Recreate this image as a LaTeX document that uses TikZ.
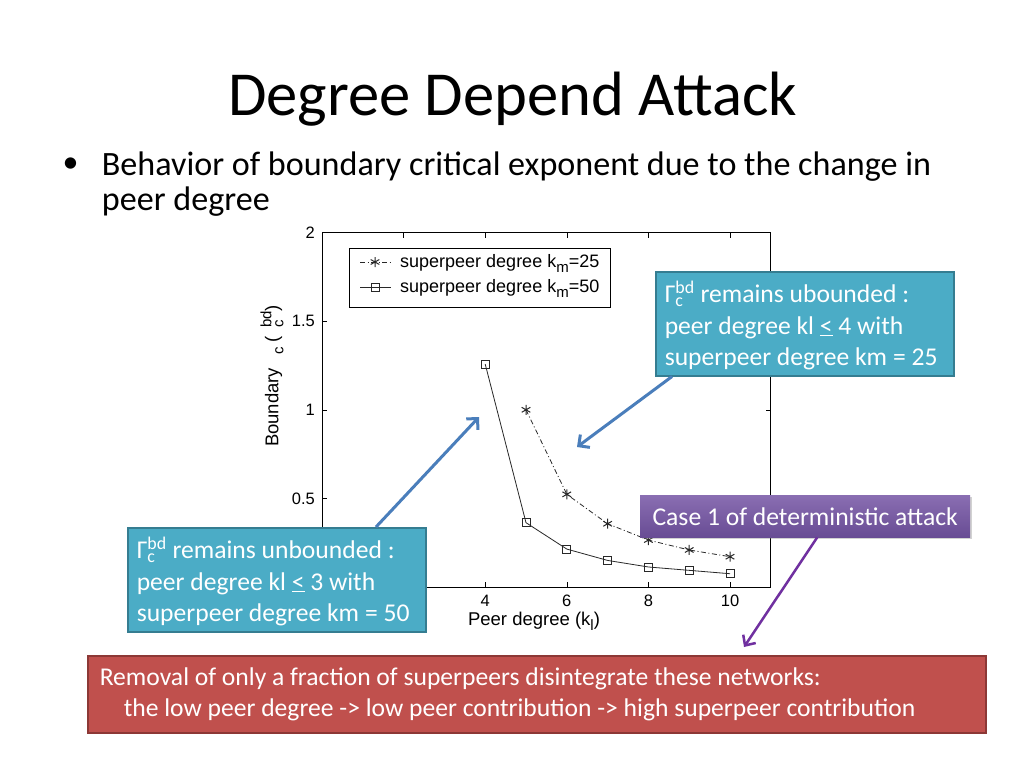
\documentclass[tikz,border=0pt]{standalone}
\usepackage{fontspec}
\setmainfont{Carlito}
\newfontfamily\plotfont{Liberation Sans}
\usetikzlibrary{arrows.meta,shadows,plotmarks}
\definecolor{callblue}{RGB}{75,172,198}
\definecolor{callline}{RGB}{53,125,145}
\definecolor{arrowblue}{RGB}{74,126,187}
\definecolor{casetop}{RGB}{138,110,178}
\definecolor{casebot}{RGB}{104,76,148}
\definecolor{arrowpurple}{RGB}{112,48,160}
\definecolor{boxred}{RGB}{192,80,77}
\definecolor{boxline}{RGB}{140,56,54}
\definecolor{curve}{RGB}{40,40,40}
\newcommand{\lowsub}[1]{\raisebox{-5pt}{\fontsize{15}{15}\selectfont #1}}
\tikzset{
  callout/.style={draw=callline,line width=1.5pt,fill=callblue,text=white,align=flush left,
    text width=280pt,inner xsep=9pt,inner ysep=11pt,text height=20pt,text depth=62pt,
    minimum height=104pt,anchor=north west,font=\fontsize{25.6}{31.5}\selectfont},
  callarrow/.style={arrowblue,line width=3pt,-{Straight Barb[length=8pt,width=16pt]}},
  ticklab/.style={inner sep=0pt,font=\plotfont\fontsize{16.5}{18}\selectfont},
  axislab/.style={inner sep=0pt,font=\plotfont\fontsize{18.5}{20}\selectfont},
  legtext/.style={inner sep=0pt,anchor=base west,font=\plotfont\fontsize{18}{20}\selectfont},
  series/.style={curve,line width=0.8pt}
}
\begin{document}
\begin{tikzpicture}[x=1pt,y=-1pt]
\fill[white] (0,0) rectangle (1024,768);
\useasboundingbox (0,0) rectangle (1024,768);
\node[anchor=base,inner sep=0pt,font=\fontsize{62.6}{75}\selectfont] (title) at (512.5,115) {Degree Depend Attack};
\node[anchor=base,inner sep=0pt,font=\fontsize{32}{35}\selectfont] (dot) at (70.5,172) {\textbullet};
\node[anchor=base west,inner sep=0pt,font=\fontsize{34.1}{35}\selectfont] (bul) at (101.7,175) {Behavior of boundary critical exponent due to the change in};
\node[anchor=base west,inner sep=0pt,font=\fontsize{34.1}{35}\selectfont] (bul2) at (101.7,210) {peer degree};
\begin{scope}[shift={(322,587)},x=40.8pt,y=177.2pt]
\draw[line width=0.8pt] (0,0) rectangle (11,2);
\foreach \k in {2,4,6,8,10} {
  \draw[line width=0.6pt] (\k,0) -- ++(0,5pt) (\k,2) -- ++(0,-5pt);
}
\foreach \v in {0.5,1,1.5} {
  \draw[line width=0.6pt] (0,\v) -- ++(5pt,0) (11,\v) -- ++(-5pt,0);
}
\foreach \k in {4,6,8,10} {
  \node[ticklab,anchor=north] (x\k) at (\k,-8pt) {\k};
}
\foreach \v in {0.5,1,1.5,2} {
  \node[ticklab,anchor=east] (y\v) at (-7pt,\v) {\v};
}
\draw[series,dash pattern=on 5pt off 2.5pt on 1pt off 2.5pt] plot[mark=asterisk,mark size=5pt,mark options={solid,line width=1pt}]
  coordinates {(5,1.0) (6,0.523) (7,0.357) (8,0.265) (9,0.209) (10,0.171)};
\draw[series] plot[mark=square,mark size=4pt,mark options={solid,line width=0.8pt,fill=white}]
  coordinates {(4,1.258) (5,0.363) (6,0.214) (7,0.150) (8,0.113) (9,0.094) (10,0.075)};
\end{scope}
\node[axislab,anchor=base] (xlab) at (534,625) {Peer degree (k\lowsub{l})};
\node[axislab,rotate=90] (ylab) at (272,376) {Boundary \hspace{8pt}\lowsub{c} (\hspace{8pt}\rlap{\lowsub{c}}\raisebox{7pt}{\fontsize{15}{15}\selectfont bd})};
\draw[line width=0.8pt,fill=white] (349,248) rectangle (610,307);
\draw[series,dash pattern=on 5pt off 2.5pt on 1pt off 2.5pt] (360,262) -- (391,262);
\draw[series] (360,287) -- (391,287);
\path plot[mark=asterisk,mark size=5pt,mark options={curve,line width=1pt}] coordinates {(375,262)};
\path plot[mark=square,mark size=4pt,mark options={curve,line width=0.8pt,fill=white}] coordinates {(375,287)};
\node[legtext] (leg1) at (400,267) {superpeer degree k\lowsub{m}=25};
\node[legtext] (leg2) at (400,292) {superpeer degree k\lowsub{m}=50};
\node[callout] (km25) at (655,271) {Γ\rlap{\textsubscript{c}}\textsuperscript{bd} remains ubounded :\\peer degree kl \underline{<} 4 with\\superpeer degree km = 25};
\node[callout] (km50) at (127,527) {Γ\rlap{\textsubscript{c}}\textsuperscript{bd} remains unbounded :\\peer degree kl \underline{<} 3 with\\superpeer degree km = 50};
\node[anchor=north west,minimum width=330pt,minimum height=42pt,inner sep=0pt,top color=casetop,bottom color=casebot,
  drop shadow={opacity=0.35,shadow xshift=2pt,shadow yshift=-2pt},text=white,font=\fontsize{25.6}{31}\selectfont] (case) at (640,495) {Case 1 of deterministic attack};
\node[anchor=north west,draw=boxline,line width=1.5pt,fill=boxred,text=white,align=flush left,text width=874pt,inner sep=12pt,
  minimum height=74pt,font=\fontsize{25.6}{31}\selectfont] (removal) at (87,655) {Removal of only a fraction of superpeers disintegrate these networks:\\\hspace*{24pt}the low peer degree -> low peer contribution -> high superpeer contribution};
\coordinate (tipA) at (479,417);
\coordinate (tipB) at (577,447);
\coordinate (tipC) at (744,647);
\draw[callarrow] ([xshift=249pt]km50.north west) -- (tipA);
\draw[callarrow] ([xshift=17pt]km25.south west) -- (tipB);
\draw[arrowpurple,line width=2.5pt,-{Straight Barb[length=8pt,width=15pt]}] ([xshift=12pt]case.south) -- (tipC);
\end{tikzpicture}
\end{document}
